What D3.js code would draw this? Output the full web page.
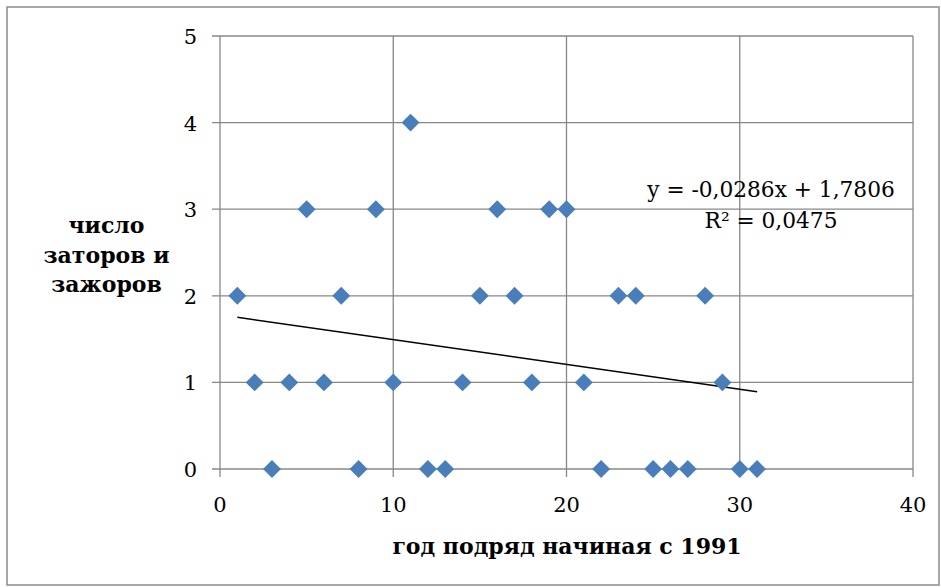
<!DOCTYPE html>
<html><head><meta charset="utf-8">
<script src="https://cdn.jsdelivr.net/npm/d3@7"></script>
<style>body{margin:0;background:#fff}svg{display:block}</style>
</head><body>
<script>
const years = [1,2,3,4,5,6,7,8,9,10,11,12,13,14,15,16,17,18,19,20,21,22,23,24,25,26,27,28,29,30,31];
const counts = [2,1,0,1,3,1,2,0,3,1,4,0,0,1,2,3,2,1,3,3,1,0,2,2,0,0,0,2,1,0,0];
const xTicks = [0,10,20,30,40];
const yTicks = [0,1,2,3,4,5];
const xTitle = "год подряд начиная с 1991";
const yTitle = ["число", "заторов и", "зажоров"];
const eqText = "y = -0,0286x + 1,7806";
const r2Text = "R² = 0,0475";

const W = 941, H = 587;
const font = "'DejaVu Serif', serif";
const svg = d3.select("body").append("svg").attr("width", W).attr("height", H);
svg.append("rect").attr("x",7).attr("y",7).attr("width",932).attr("height",578)
  .attr("fill","#fff").attr("stroke","#8c8c8c").attr("stroke-width",1.5);

const x = d3.scaleLinear().domain([0,40]).range([220,913]);
const y = d3.scaleLinear().domain([0,5]).range([469,36]);
const grid = "#878787";

svg.append("g").selectAll("line").data(yTicks).join("line")
  .attr("x1",x(0)-8).attr("x2",x(40)).attr("y1",d=>y(d)).attr("y2",d=>y(d))
  .attr("stroke",grid).attr("stroke-width",1.3);
svg.append("g").selectAll("line").data(xTicks).join("line")
  .attr("y1",y(5)).attr("y2",y(0)+8).attr("x1",d=>x(d)).attr("x2",d=>x(d))
  .attr("stroke",grid).attr("stroke-width",1.3);

svg.append("g").selectAll("text").data(yTicks).join("text")
  .attr("x",197).attr("y",d=>y(d)+8).attr("text-anchor","end")
  .attr("font-family",font).attr("font-size",21).attr("fill","#000").text(d=>d);
svg.append("g").selectAll("text").data(xTicks).join("text")
  .attr("x",d=>x(d)).attr("y",512).attr("text-anchor","middle")
  .attr("font-family",font).attr("font-size",21).attr("fill","#000").text(d=>d);

const mx = d3.mean(years), my = d3.mean(counts);
const slope = d3.sum(years.map((v,i)=>(v-mx)*(counts[i]-my))) / d3.sum(years.map(v=>(v-mx)**2));
const icpt = my - slope*mx;
const x0 = d3.min(years), x1 = d3.max(years);
svg.append("line").attr("x1",x(x0)).attr("y1",y(icpt+slope*x0))
  .attr("x2",x(x1)).attr("y2",y(icpt+slope*x1)).attr("stroke","#000").attr("stroke-width",1.5);

const sym = d3.symbol().type(d3.symbolSquare).size(160);
svg.append("g").selectAll("path").data(years).join("path")
  .attr("d",sym).attr("fill","#4a7ebb")
  .attr("transform",(d,i)=>`translate(${x(d)},${y(counts[i])}) rotate(45)`);

svg.append("text").attr("x",771).attr("y",197).attr("text-anchor","middle")
  .attr("font-family",font).attr("font-size",21.7).text(eqText);
svg.append("text").attr("x",771).attr("y",228).attr("text-anchor","middle")
  .attr("font-family",font).attr("font-size",21.7).text(r2Text);

svg.append("text").attr("x",567).attr("y",554).attr("text-anchor","middle")
  .attr("font-family",font).attr("font-size",22).attr("font-weight","bold").text(xTitle);
svg.append("g").selectAll("text").data(yTitle).join("text")
  .attr("x",106.5).attr("y",(d,i)=>233+i*29.5).attr("text-anchor","middle")
  .attr("font-family",font).attr("font-size",22).attr("font-weight","bold").text(d=>d);
</script>
</body></html>
